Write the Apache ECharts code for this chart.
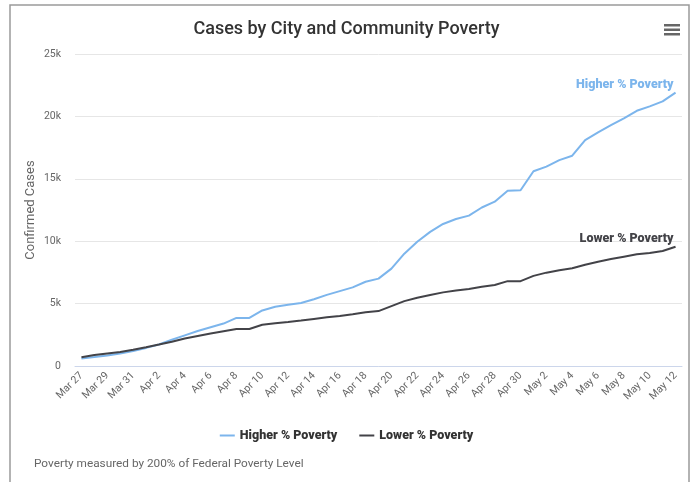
<!DOCTYPE html>
<html>
<head>
<meta charset="utf-8">
<script src="https://cdn.jsdelivr.net/npm/echarts@6/dist/echarts.min.js"></script>
<style>
  html, body { margin: 0; padding: 0; background: #fff; }
  #chart { width: 693px; height: 482px; }
</style>
</head>
<body>
<div id="chart"></div>
<script>
// Daily dates, Mar 27 – May 12
const dates = [
  'Mar 27','Mar 28','Mar 29','Mar 30','Mar 31',
  'Apr 1','Apr 2','Apr 3','Apr 4','Apr 5','Apr 6','Apr 7','Apr 8','Apr 9','Apr 10',
  'Apr 11','Apr 12','Apr 13','Apr 14','Apr 15','Apr 16','Apr 17','Apr 18','Apr 19','Apr 20',
  'Apr 21','Apr 22','Apr 23','Apr 24','Apr 25','Apr 26','Apr 27','Apr 28','Apr 29','Apr 30',
  'May 1','May 2','May 3','May 4','May 5','May 6','May 7','May 8','May 9','May 10','May 11','May 12'
];

// Cumulative confirmed cases, communities with higher share below 200% FPL
const higherPoverty = [
  600, 720, 850, 1000, 1200, 1450, 1720, 2100, 2450, 2800,
  3100, 3400, 3850, 3850, 4450, 4750, 4900, 5050, 5350, 5700,
  6000, 6300, 6750, 7000, 7800, 9000, 9950, 10750, 11380, 11780,
  12050, 12700, 13170, 14050, 14080, 15600, 15980, 16500, 16850, 18100,
  18720, 19300, 19850, 20450, 20800, 21200, 21900
];

// Cumulative confirmed cases, communities with lower share below 200% FPL
const lowerPoverty = [
  700, 880, 1000, 1120, 1300, 1500, 1720, 1950, 2200, 2400,
  2600, 2780, 2960, 2960, 3300, 3430, 3530, 3640, 3770, 3900,
  4010, 4150, 4300, 4400, 4800, 5200, 5470, 5690, 5900, 6050,
  6170, 6350, 6490, 6800, 6800, 7220, 7480, 7680, 7830, 8120,
  8360, 8570, 8760, 8950, 9050, 9220, 9560
];

const yTicks = [0, 5000, 10000, 15000, 20000, 25000];

const BLUE = '#7cb5ec';
const DARK = '#434348';
const FONT = 'Roboto, "Noto Sans", sans-serif';

const chart = echarts.init(document.getElementById('chart'), null, { renderer: 'canvas' });

const endLabel = color => ({
  show: true,
  formatter: '{a}',
  align: 'right',
  verticalAlign: 'bottom',
  distance: 0,
  offset: [-2, -1],
  fontFamily: FONT,
  fontSize: 12.5,
  fontWeight: 900,
  color: color
});

chart.setOption({
  animation: false,
  backgroundColor: '#ffffff',
  title: {
    text: 'Cases by City and Community Poverty',
    left: 'center',
    top: 15,
    textStyle: { fontFamily: FONT, fontSize: 18, fontWeight: 500, color: '#333333' }
  },
  legend: {
    data: ['Higher % Poverty', 'Lower % Poverty'],
    left: 'center',
    top: 424,
    icon: 'rect',
    itemWidth: 15,
    itemHeight: 2,
    itemGap: 22,
    textStyle: { fontFamily: FONT, fontSize: 12.5, fontWeight: 900, color: '#333333' }
  },
  grid: { left: 75, right: 11, top: 54, bottom: 116 },
  xAxis: {
    type: 'category',
    data: dates,
    boundaryGap: true,
    axisLine: { lineStyle: { color: '#ccd6eb' } },
    axisTick: { show: false },
    axisLabel: {
      interval: 1,
      rotate: 45,
      fontFamily: FONT,
      fontSize: 10.5,
      color: '#666666',
      margin: 8
    }
  },
  yAxis: {
    type: 'value',
    min: yTicks[0],
    max: yTicks[yTicks.length - 1],
    interval: yTicks[1] - yTicks[0],
    name: 'Confirmed Cases',
    nameLocation: 'middle',
    nameGap: 38,
    nameMoveOverlap: false,
    nameTextStyle: { fontFamily: FONT, fontSize: 13, color: '#666666' },
    axisLine: { show: false },
    axisTick: { show: false },
    splitLine: { lineStyle: { color: '#e6e6e6' } },
    axisLabel: {
      fontFamily: FONT,
      fontSize: 10.5,
      color: '#666666',
      margin: 14,
      formatter: v => (v === 0 ? '0' : v / 1000 + 'k')
    }
  },
  series: [
    {
      name: 'Higher % Poverty',
      type: 'line',
      data: higherPoverty,
      showSymbol: false,
      color: BLUE,
      lineStyle: { width: 2, color: BLUE },
      endLabel: endLabel(BLUE)
    },
    {
      name: 'Lower % Poverty',
      type: 'line',
      data: lowerPoverty,
      showSymbol: false,
      color: DARK,
      lineStyle: { width: 2, color: DARK },
      endLabel: endLabel(DARK)
    }
  ],
  graphic: [
    // outer frame
    {
      type: 'rect',
      shape: { x: 10, y: 5, width: 679, height: 490 },
      style: { fill: 'none', stroke: '#9a9a9a', lineWidth: 1.5 },
      silent: true
    },
    // context menu glyph
    {
      type: 'group',
      left: 664,
      top: 24,
      children: [
        { type: 'rect', shape: { x: 0, y: 0, width: 16, height: 2.5 }, style: { fill: '#666666' } },
        { type: 'rect', shape: { x: 0, y: 4.5, width: 16, height: 2.5 }, style: { fill: '#666666' } },
        { type: 'rect', shape: { x: 0, y: 9, width: 16, height: 2.5 }, style: { fill: '#666666' } }
      ]
    },
    // footnote
    {
      type: 'text',
      left: 34,
      top: 458,
      style: {
        text: 'Poverty measured by 200% of Federal Poverty Level',
        fontFamily: FONT,
        fontSize: 11.8,
        fill: '#666666'
      }
    }
  ]
});
</script>
</body>
</html>
